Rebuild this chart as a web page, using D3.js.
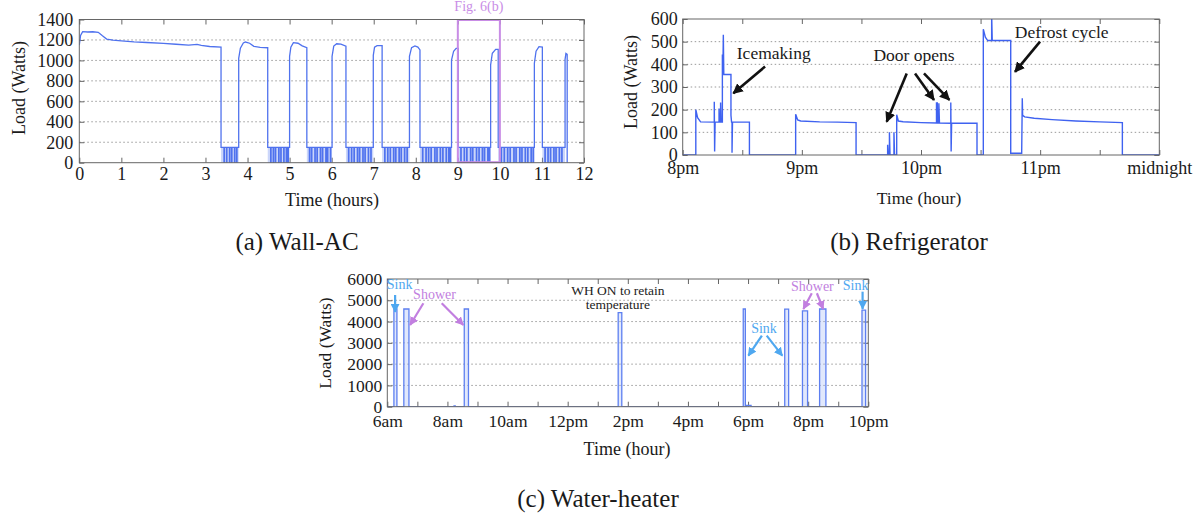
<!DOCTYPE html>
<html>
<head>
<meta charset="utf-8">
<title>Appliance loads</title>
<style>
  body { margin: 0; background: #fff; }
  text { font-family: "Liberation Serif", "DejaVu Serif", serif; }
</style>
</head>
<body>
<svg width="1197" height="514"></svg>
<script src="https://d3js.org/d3.v7.min.js"></script>
<script>
// ---------- (a) Wall-AC : compressor runs, [hour, watts]
var acRuns = [
  [[0,1150],[0.03,1245],[0.08,1282],[0.2,1278],[0.32,1280],[0.45,1275],[0.55,1240],[0.65,1209],[0.8,1198],[1.0,1192],[1.3,1182],[1.6,1175],[2.0,1167],[2.3,1158],[2.6,1150],[2.8,1157],[2.9,1146],[3.1,1136],[3.37,1131]],
  [[3.79,1020],[3.83,1120],[3.9,1170],[3.95,1180],[4.05,1168],[4.15,1138],[4.3,1128],[4.48,1124]],
  [[5.0,1040],[5.03,1130],[5.09,1173],[5.2,1168],[5.3,1142],[5.41,1124]],
  [[6.01,1040],[6.05,1140],[6.12,1163],[6.22,1160],[6.34,1139]],
  [[6.99,1050],[7.02,1130],[7.08,1144],[7.2,1144]],
  [[7.85,1040],[7.9,1125],[7.98,1141],[8.05,1130],[8.1,1102]],
  [[8.85,1004],[8.9,1090],[8.96,1118],[9.01,1118]],
  [[9.78,955],[9.82,1070],[9.9,1108],[9.96,1108]],
  [[10.82,972],[10.86,1090],[10.93,1134],[11.01,1130]],
  [[11.55,1010],[11.57,1069],[11.6,1060],[11.6,0]]
];
// fan-only stretches between runs [start, end] and the moments the fan drops out
var acFanLevel = 150;
var acFanGaps = [[3.37,3.79],[4.48,5.0],[5.41,6.01],[6.34,6.99],[7.2,7.85],[8.1,8.85],[9.01,9.78],[9.96,10.82],[11.01,11.55]];
var acFanDips = [
  [3.44,3.5,3.57,3.62,3.69,3.74],
  [4.55,4.61,4.66,4.74,4.79,4.86,4.92,4.96],
  [5.47,5.52,5.6,5.65,5.73,5.78,5.86,5.9,5.97],
  [6.4,6.47,6.53,6.61,6.66,6.74,6.79,6.87,6.93],
  [7.26,7.33,7.39,7.47,7.52,7.6,7.65,7.73,7.79],
  [8.16,8.24,8.3,8.36,8.45,8.5,8.58,8.64,8.72,8.78,8.82],
  [9.07,9.15,9.21,9.3,9.35,9.44,9.5,9.58,9.63,9.71,9.75],
  [10.03,10.1,10.18,10.24,10.33,10.38,10.47,10.52,10.6,10.66,10.74,10.79],
  [11.07,11.14,11.2,11.28,11.33,11.41,11.47]
];
var acXTicks = [0,1,2,3,4,5,6,7,8,9,10,11,12];
var acYTicks = [0,200,400,600,800,1000,1200,1400];
var acZoomBox = [9, 10];

// ---------- (b) Refrigerator : hours after 8pm, watts
var fridge = [
  [0,0],[0.11,0],[0.11,200],[0.125,165],[0.15,146],[0.265,145],[0.265,235],[0.268,15],[0.272,145],
  [0.305,145],[0.305,205],[0.308,145],[0.318,145],[0.318,232],[0.322,145],[0.333,145],[0.333,440],
  [0.339,440],[0.341,530],[0.345,355],[0.405,355],[0.405,175],[0.41,145],[0.414,145],[0.414,10],
  [0.418,145],[0.56,145],[0.56,0],
  [0.948,0],[0.948,180],[0.965,155],[0.99,150],[1.15,146],[1.3,145],[1.455,143],[1.455,0],
  [1.72,0],[1.72,45],[1.725,0],[1.735,0],[1.735,100],[1.74,0],[1.773,0],[1.773,100],[1.778,0],
  [1.796,0],[1.796,178],[1.81,150],[1.85,147],[2.0,143],[2.13,141],[2.13,230],[2.137,230],[2.14,141],
  [2.15,141],[2.15,228],[2.155,141],[2.25,140],[2.25,232],[2.253,15],[2.257,140],[2.47,140],[2.47,0],
  [2.523,0],[2.523,555],[2.54,520],[2.56,505],[2.593,505],[2.593,620],[2.598,505],[2.753,505],
  [2.753,8],[2.845,8],[2.85,250],[2.853,175],[2.87,168],[2.95,162],[3.1,156],[3.3,150],[3.5,146],
  [3.69,143],[3.69,0],[4,0]
];
var fridgeXTicks = [0,0.5,1,1.5,2,2.5,3,3.5,4];
var fridgeXLabels = ["8pm","9pm","10pm","11pm","midnight"];
var fridgeYTicks = [0,100,200,300,400,500,600];
// [text, hour, watts]
var fridgeNotes = [["Icemaking",0.764,449],["Door opens",1.941,441],["Defrost cycle",3.181,544]];
// [fromHour, fromWatts, toHour, toWatts]
var fridgeArrows = [[0.691,390,0.425,272],[1.88,360,1.712,147],[1.95,360,2.109,243],[2.025,360,2.238,243],[2.999,500,2.789,367]];

// ---------- (c) Water-heater : pulses [startHour, endHour, watts]
var whPulses = [[6.22,6.32,4600],[6.55,6.72,4590],[8.22,8.26,40],[8.56,8.7,4590],[13.68,13.8,4420],
  [17.84,17.91,4590],[17.95,18.1,60],[19.22,19.35,4580],[19.81,19.98,4500],[20.38,20.59,4590],[21.79,21.91,4540]];
var whXTicks = [6,7,8,9,10,11,12,13,14,15,16,17,18,19,20,21,22];
var whXLabels = ["6am","8am","10am","12pm","2pm","4pm","6pm","8pm","10pm"];
var whYTicks = [0,1000,2000,3000,4000,5000,6000];
// [text, hour, watts, kind]
var whNotes = [["Sink",6.41,5719,"sink"],["Shower",7.57,5249,"shower"],["WH ON to retain",13.67,5437,"plain"],
  ["temperature",13.67,4779,"plain"],["Sink",18.53,3684,"sink"],["Shower",20.14,5639,"shower"],["Sink",21.58,5686,"sink"]];
var whArrows = [[6.26,5249,6.26,4450,"sink"],[7.2,4859,6.76,3839,"shower"],[7.81,4859,8.53,3839,"shower"],
  [18.46,3337,18.01,2397,"sink"],[18.62,3337,19.14,2397,"sink"],[20.12,5329,19.84,4591,"shower"],
  [20.29,5329,20.5,4591,"shower"],[21.81,5404,21.81,4591,"sink"]];

var colors = {sink: "#4fa8f0", shower: "#c27fe0", plain: "#222", black: "#111"};
var serif = "Liberation Serif";

var svg = d3.select("svg");
var defs = svg.append("defs");
function marker(id, color) {
  defs.append("marker").attr("id", id).attr("viewBox", "0 0 10 10")
    .attr("refX", 9).attr("refY", 5).attr("markerWidth", 4).attr("markerHeight", 4)
    .attr("orient", "auto")
    .append("path").attr("d", "M0,0L10,5L0,10z").attr("fill", color);
}
marker("ah-black", colors.black);
marker("ah-sink", colors.sink);
marker("ah-shower", colors.shower);

// draws grid and inward ticks on all four sides
function panel(box, x, y, xTicks, xFmt, yTicks, fs, xPad, yPad, id) {
  var g = svg.append("g");
  g.append("clipPath").attr("id", id).append("rect")
    .attr("x", box.l).attr("y", box.t).attr("width", box.r - box.l).attr("height", box.b - box.t);
  g.selectAll("line.grid").data(yTicks.slice(1, -1)).join("line").attr("class", "grid")
    .attr("x1", box.l).attr("x2", box.r).attr("y1", d => y(d)).attr("y2", d => y(d))
    .attr("stroke", "#999").attr("stroke-width", 1).attr("stroke-dasharray", "1.5,2.5");
  var axes = [
    [d3.axisBottom(x).tickValues(xTicks).tickFormat(xFmt).tickPadding(xPad), `translate(0,${box.b})`],
    [d3.axisTop(x).tickValues(xTicks).tickFormat(""), `translate(0,${box.t})`],
    [d3.axisLeft(y).tickValues(yTicks).tickFormat(d3.format("d")).tickPadding(yPad), `translate(${box.l},0)`],
    [d3.axisRight(y).tickValues(yTicks).tickFormat(""), `translate(${box.r},0)`]
  ];
  axes.forEach(function (a) {
    var ag = g.append("g").attr("transform", a[1])
      .call(a[0].tickSizeInner(-5).tickSizeOuter(0));
    ag.attr("font-family", serif).attr("font-size", fs);
    ag.select(".domain").remove();
    ag.selectAll(".tick line").attr("stroke", "#666");
    ag.selectAll(".tick text").attr("fill", "#1a1a1a");
  });
  return g;
}
function frame(g, box) {
  g.append("rect").attr("x", box.l).attr("y", box.t).attr("width", box.r - box.l)
    .attr("height", box.b - box.t).attr("fill", "none").attr("stroke", "#666").attr("stroke-width", 1);
}
function label(txt, cx, cy, fs, rot, color) {
  svg.append("text").attr("transform", `translate(${cx},${cy})` + (rot ? " rotate(-90)" : ""))
    .attr("text-anchor", "middle").attr("dominant-baseline", "central")
    .attr("font-family", serif).attr("font-size", fs).attr("fill", color || "#1a1a1a").text(txt);
}

// ================= (a) Wall-AC
var boxA = {l: 79.3, r: 584, t: 19.5, b: 162.7};
var xA = d3.scaleLinear().domain([0, 12]).range([boxA.l, boxA.r]);
var yA = d3.scaleLinear().domain([0, 1400]).range([boxA.b, boxA.t]);
var gA = panel(boxA, xA, yA, acXTicks, d3.format("d"), acYTicks, 18, 5, 6, "clipA");

var acSeries = [];
acRuns.forEach(function (run, i) {
  run.forEach(p => acSeries.push(p));
  if (i < acFanGaps.length) {
    var gap = acFanGaps[i];
    acSeries.push([gap[0], acFanLevel]);
    acFanDips[i].forEach(function (d) {
      acSeries.push([d, acFanLevel], [d, 0], [d + 0.01, 0], [d + 0.01, acFanLevel]);
    });
    acSeries.push([gap[1], acFanLevel]);
  }
});
gA.append("g").selectAll("rect").data(acFanGaps).join("rect")
  .attr("x", d => xA(d[0])).attr("width", d => xA(d[1]) - xA(d[0]))
  .attr("y", yA(acFanLevel)).attr("height", yA(0) - yA(acFanLevel))
  .attr("fill", "#7d98f2").attr("opacity", 0.4);
gA.append("path").attr("d", d3.line().x(d => xA(d[0])).y(d => yA(d[1]))(acSeries))
  .attr("fill", "none").attr("stroke", "#4f72ee").attr("stroke-width", 1.3)
  .attr("clip-path", "url(#clipA)");
// Fig. 6(b) box
gA.append("rect").attr("x", xA(acZoomBox[0])).attr("y", yA(1395))
  .attr("width", xA(acZoomBox[1]) - xA(acZoomBox[0])).attr("height", yA(5) - yA(1395))
  .attr("fill", "none").attr("stroke", "#c98de6").attr("stroke-width", 2);
svg.append("text").attr("x", xA((acZoomBox[0] + acZoomBox[1]) / 2)).attr("y", 11)
  .attr("text-anchor", "middle").attr("font-family", serif).attr("font-size", 14)
  .attr("fill", "#c98de6").text("Fig. 6(b)");
frame(gA, boxA);
label("Load (Watts)", 19, 88, 18, true);
label("Time (hours)", 332, 200, 18);
label("(a) Wall-AC", 297, 241, 25);

// ================= (b) Refrigerator
var boxB = {l: 682.7, r: 1159.3, t: 19, b: 155};
var xB = d3.scaleLinear().domain([0, 4]).range([boxB.l, boxB.r]);
var yB = d3.scaleLinear().domain([0, 600]).range([boxB.b, boxB.t]);
var gB = panel(boxB, xB, yB, fridgeXTicks,
  d => Number.isInteger(d) ? fridgeXLabels[d] : "", fridgeYTicks, 18, 6, 5, "clipB");
gB.append("path").attr("d", d3.line().x(d => xB(d[0])).y(d => yB(d[1]))(fridge))
  .attr("fill", "none").attr("stroke", "#3f62f0").attr("stroke-width", 1.4)
  .attr("clip-path", "url(#clipB)");
frame(gB, boxB);
gB.selectAll("line.arrow").data(fridgeArrows).join("line").attr("class", "arrow")
  .attr("x1", d => xB(d[0])).attr("y1", d => yB(d[1])).attr("x2", d => xB(d[2])).attr("y2", d => yB(d[3]))
  .attr("stroke", colors.black).attr("stroke-width", 2.6).attr("marker-end", "url(#ah-black)");
gB.selectAll("text.note").data(fridgeNotes).join("text").attr("class", "note")
  .attr("x", d => xB(d[1])).attr("y", d => yB(d[2])).attr("text-anchor", "middle")
  .attr("dominant-baseline", "central").attr("font-family", serif).attr("font-size", 17.5)
  .attr("fill", "#1a1a1a").text(d => d[0]);
label("Load (Watts)", 630.5, 82, 18, true);
label("Time (hour)", 919, 197.5, 17.5);
label("(b) Refrigerator", 909, 241, 25);

// ================= (c) Water-heater
var boxC = {l: 387.3, r: 868.3, t: 279, b: 406.7};
var xC = d3.scaleLinear().domain([6, 22]).range([boxC.l, boxC.r]);
var yC = d3.scaleLinear().domain([0, 6000]).range([boxC.b, boxC.t]);
var gC = panel(boxC, xC, yC, whXTicks,
  d => d % 2 === 0 ? whXLabels[(d - 6) / 2] : "", whYTicks, 17.5, 8, 5, "clipC");
var whSeries = [[6, 0]];
whPulses.forEach(function (p) {
  whSeries.push([p[0], 0], [p[0], p[2]], [p[1], p[2]], [p[1], 0]);
});
whSeries.push([22, 0]);
gC.append("path").attr("d", d3.area().x(d => xC(d[0])).y0(yC(0)).y1(d => yC(d[1]))(whSeries))
  .attr("fill", "#a9bcf7").attr("opacity", 0.35);
gC.append("path").attr("d", d3.line().x(d => xC(d[0])).y(d => yC(d[1]))(whSeries))
  .attr("fill", "none").attr("stroke", "#5d7ff0").attr("stroke-width", 1.3)
  .attr("clip-path", "url(#clipC)");
frame(gC, boxC);
gC.selectAll("line.arrow").data(whArrows).join("line").attr("class", "arrow")
  .attr("x1", d => xC(d[0])).attr("y1", d => yC(d[1])).attr("x2", d => xC(d[2])).attr("y2", d => yC(d[3]))
  .attr("stroke", d => colors[d[4]]).attr("stroke-width", 2.2).attr("marker-end", d => `url(#ah-${d[4]})`);
gC.selectAll("text.note").data(whNotes).join("text").attr("class", "note")
  .attr("x", d => xC(d[1])).attr("y", d => yC(d[2])).attr("text-anchor", "middle")
  .attr("dominant-baseline", "central").attr("font-family", serif)
  .attr("font-size", d => d[3] === "plain" ? 13.5 : 14)
  .attr("fill", d => colors[d[3]]).text(d => d[0]);
label("Load (Watts)", 325, 343, 17.5, true);
label("Time (hour)", 627, 449, 18);
label("(c) Water-heater", 598, 498, 25);
</script>
</body>
</html>
